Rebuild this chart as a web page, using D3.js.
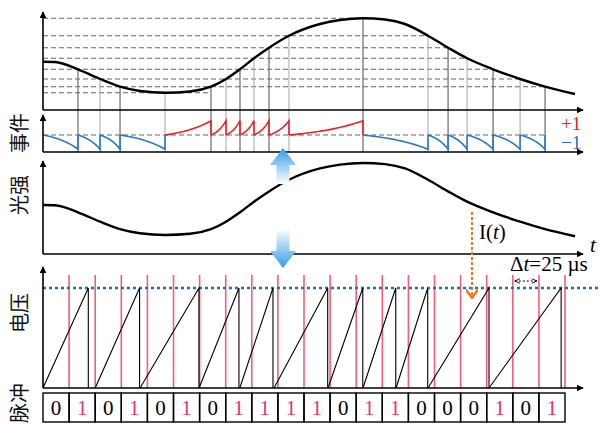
<!DOCTYPE html>
<html><head><meta charset="utf-8">
<script src="https://cdn.jsdelivr.net/npm/d3@7"></script>
<style>body{margin:0;background:#fff}svg{display:block}</style>
</head><body>
<svg id="c" width="601" height="425"></svg>
<script>
// ---------- data ----------
// light intensity I(t) samples (t in µs, I in a.u.)
const curveT = [0, 11.5, 33.5, 54.6, 73.8, 92.9, 116.9, 140.8, 160.9, 175.3, 188.7, 202.1, 216.5, 235.6, 265.3, 284.5, 306.5, 327.6, 346.8, 368.8, 388, 406.2, 431.1, 457, 480.9, 509.6];
const curveI = [48.3, 48, 40.7, 31, 23.3, 19, 17.3, 18.5, 23.3, 31, 40.7, 51.7, 62.3, 74.3, 86, 90, 91.7, 90.5, 86, 74.3, 62.3, 51.7, 40.7, 31, 23.3, 16];
// quantisation levels and the time where each dashed level line stops
const levels = [91.7, 74.3, 62.3, 51.7, 40.7, 31, 23.3, 17.3];
const levelEnds = [306.5, 368.8, 388, 406.2, 431.1, 457, 480.9, 160.9];
// events: time, polarity, intensity at event
const eventT = [33.5, 54.6, 73.8, 116.9, 160.9, 175.3, 188.7, 202.1, 216.5, 235.6, 306.5, 368.8, 388, 406.2, 431.1, 457, 480.9];
const eventSign = [-1, -1, -1, -1, 1, 1, 1, 1, 1, 1, 1, -1, -1, -1, -1, -1, -1];
const eventI = [40.7, 31, 23.3, 17.3, 23.3, 31, 40.7, 51.7, 62.3, 74.3, 91.7, 74.3, 62.3, 51.7, 40.7, 31, 23.3];
// clock edges (Δt = 25 µs)
const clockT = [25, 50, 75, 100, 125, 150, 175, 200, 225, 250, 275, 300, 325, 350, 375, 400, 425, 450, 475, 500];
// integrate-and-fire voltage ramps
const rampStart = [0, 50, 93, 149.5, 188.5, 221.3, 273, 306.5, 338.2, 368.8, 427.2];
const rampEnd = [43.4, 92.5, 149.4, 187.7, 220.3, 272.7, 306.3, 337.9, 368.5, 427.2, 496.3];
// output pulse bits
const pulses = [0, 1, 0, 1, 0, 1, 0, 1, 1, 1, 1, 0, 1, 1, 0, 0, 0, 1, 0, 1];

// ---------- setup ----------
const svg = d3.select("#c");
const RED = "#e8202a", BLUE = "#2a78c6", PINK = "#f0607c";
const x = d3.scaleLinear().domain([0, 500]).range([43, 565]);
const yTop = d3.scaleLinear().domain([0, 100]).range([110, 10]);
const yEvt = d3.scaleLinear().domain([-1, 1]).range([150, 120]);
const yMid = d3.scaleLinear().domain([0, 100]).range([251.7, 154.9]);
const yV = d3.scaleLinear().domain([0, 1]).range([388, 288]);
const xEnd = 583;

const defs = svg.append("defs");
defs.append("marker").attr("id", "ah").attr("viewBox", "0 0 10 10").attr("refX", 9).attr("refY", 5)
  .attr("markerWidth", 7).attr("markerHeight", 7).attr("markerUnits", "userSpaceOnUse").attr("orient", "auto")
  .append("path").attr("d", "M0,0L10,5L0,10Z").attr("fill", "#000");
defs.append("marker").attr("id", "sa").attr("viewBox", "0 0 10 10").attr("refX", 9).attr("refY", 5)
  .attr("markerWidth", 6).attr("markerHeight", 6).attr("markerUnits", "userSpaceOnUse").attr("orient", "auto-start-reverse")
  .append("path").attr("d", "M0,1L9,5L0,9").attr("fill", "none").attr("stroke", "#000").attr("stroke-width", 1.5);
defs.append("marker").attr("id", "oa").attr("viewBox", "0 0 10 10").attr("refX", 5).attr("refY", 9)
  .attr("markerWidth", 12).attr("markerHeight", 12).attr("markerUnits", "userSpaceOnUse").attr("orient", "0")
  .append("path").attr("d", "M0,2L5,9L10,2").attr("fill", "none").attr("stroke", "#e87722").attr("stroke-width", 2);

const gUp = defs.append("linearGradient").attr("id", "gu").attr("x1", 0).attr("y1", 0).attr("x2", 0).attr("y2", 1);
gUp.append("stop").attr("offset", "0%").attr("stop-color", "#2f9be6");
gUp.append("stop").attr("offset", "100%").attr("stop-color", "#ffffff");
const gDn = defs.append("linearGradient").attr("id", "gd").attr("x1", 0).attr("y1", 0).attr("x2", 0).attr("y2", 1);
gDn.append("stop").attr("offset", "0%").attr("stop-color", "#ffffff");
gDn.append("stop").attr("offset", "100%").attr("stop-color", "#2f9be6");

function axisLine(x1, y1, x2, y2) {
  svg.append("line").attr("x1", x1).attr("y1", y1).attr("x2", x2).attr("y2", y2)
    .attr("stroke", "#000").attr("stroke-width", 1.6).attr("marker-end", "url(#ah)");
}
const serif = "'Liberation Serif','Times New Roman',serif";
const cjk = "'Noto Sans CJK SC',sans-serif";

// ---------- top panel: intensity with levels ----------
const curvePts = curveT.map((t, i) => [t, curveI[i]]);
svg.append("g").selectAll("line").data(levels).join("line")
  .attr("x1", x(0)).attr("x2", (d, i) => x(levelEnds[i]))
  .attr("y1", d => yTop(d)).attr("y2", d => yTop(d))
  .attr("stroke", "#666").attr("stroke-width", 1.1).attr("stroke-dasharray", "5,3");

svg.append("g").selectAll("line").data(eventT).join("line")
  .attr("x1", d => x(d)).attr("x2", d => x(d))
  .attr("y1", (d, i) => yTop(eventI[i])).attr("y2", 152)
  .attr("stroke", (d, i) => i % 2 ? "#b5b5b5" : "#6a6a6a").attr("stroke-width", 1.2);

svg.append("path").datum(curvePts)
  .attr("d", d3.line().x(d => x(d[0])).y(d => yTop(d[1])).curve(d3.curveMonotoneX))
  .attr("fill", "none").attr("stroke", "#000").attr("stroke-width", 2.4);
axisLine(43, 110, 43, 12);
axisLine(43, 110, xEnd, 110);

// ---------- event panel ----------
svg.append("line").attr("x1", x(0)).attr("x2", x(eventT[eventT.length - 1]))
  .attr("y1", yEvt(0)).attr("y2", yEvt(0))
  .attr("stroke", "#666").attr("stroke-width", 1).attr("stroke-dasharray", "5,3");
const K = 1.4, A = 0.95;
eventT.forEach((t1, i) => {
  const t0 = i === 0 ? 0 : eventT[i - 1];
  const s = eventSign[i];
  const pts = d3.range(0, 1.0001, 0.05).map(u => [t0 + u * (t1 - t0), s * A * (Math.exp(K * u) - 1) / (Math.exp(K) - 1)]);
  pts.push([t1, 0]);
  svg.append("path").datum(pts)
    .attr("d", d3.line().x(d => x(d[0])).y(d => yEvt(d[1])))
    .attr("fill", "none").attr("stroke", s > 0 ? RED : BLUE).attr("stroke-width", 1.6);
});
axisLine(43, 152, 43, 115);
axisLine(43, 152, xEnd, 152);
svg.append("text").attr("x", 561).attr("y", 130).attr("font-family", serif).attr("font-size", 19)
  .attr("fill", RED).text("+1");
svg.append("text").attr("x", 561).attr("y", 149).attr("font-family", serif).attr("font-size", 19)
  .attr("fill", "#2c6db5").text("\u22121");

// ---------- middle panel ----------
svg.append("path").datum(curvePts)
  .attr("d", d3.line().x(d => x(d[0])).y(d => yMid(d[1])).curve(d3.curveMonotoneX))
  .attr("fill", "none").attr("stroke", "#000").attr("stroke-width", 2.4);
axisLine(43, 254, 43, 161);
axisLine(43, 254, xEnd, 254);
svg.append("text").attr("x", 590).attr("y", 252).attr("font-family", serif).attr("font-style", "italic")
  .attr("font-size", 21).text("t");
const it = svg.append("text").attr("x", 479).attr("y", 239).attr("font-family", serif).attr("font-size", 21);
it.append("tspan").text("I(");
it.append("tspan").attr("font-style", "italic").text("t");
it.append("tspan").text(")");

// ---------- bottom panel ----------
svg.append("g").selectAll("line").data(clockT).join("line")
  .attr("x1", d => x(d)).attr("x2", d => x(d)).attr("y1", 275).attr("y2", yV(0))
  .attr("stroke", PINK).attr("stroke-width", 1.6);
svg.append("line").attr("x1", 43).attr("x2", 601).attr("y1", yV(1)).attr("y2", yV(1))
  .attr("stroke", "#1f6fc0").attr("stroke-width", 2.6).attr("stroke-dasharray", "3,3");
rampStart.forEach((t0, i) => {
  const t1 = rampEnd[i];
  svg.append("path").datum([[t0, 0], [t1, 1], [t1, 0]])
    .attr("d", d3.line().x(d => x(d[0])).y(d => yV(d[1])))
    .attr("fill", "none").attr("stroke", "#000").attr("stroke-width", 1.1);
});
axisLine(43, 388, 43, 267);
axisLine(43, 388, xEnd, 388);

// orange dashed arrow I(t) -> threshold
svg.append("line").attr("x1", 472).attr("x2", 472).attr("y1", 212).attr("y2", 298)
  .attr("stroke", "#e87722").attr("stroke-width", 2).attr("stroke-dasharray", "3,2")
  .attr("marker-end", "url(#oa)");

// Δt annotation
svg.append("line").attr("x1", x(450) + 2).attr("x2", x(475) - 2).attr("y1", 281).attr("y2", 281)
  .attr("stroke", "#000").attr("stroke-width", 1.2).attr("stroke-dasharray", "2,2")
  .attr("marker-start", "url(#sa)").attr("marker-end", "url(#sa)");
const dt = svg.append("text").attr("x", 510).attr("y", 271).attr("font-family", serif).attr("font-size", 21);
dt.append("tspan").text("\u0394");
dt.append("tspan").attr("font-style", "italic").text("t");
dt.append("tspan").text("=25 \u00b5s");

// pulse boxes
const cells = svg.append("g").selectAll("g").data(pulses).join("g");
cells.append("rect").attr("x", (d, i) => x(25 * i)).attr("width", x(25) - x(0))
  .attr("y", 393).attr("height", 29).attr("fill", "none").attr("stroke", "#000").attr("stroke-width", 1.4);
cells.append("text").attr("x", (d, i) => x(25 * i + 12.5)).attr("y", 415).attr("text-anchor", "middle")
  .attr("font-family", serif).attr("font-size", 21).attr("fill", d => d ? "#e5336f" : "#000").text(d => d);

// ---------- blue gradient arrows ----------
svg.append("path").attr("d", "M283,148 L296,165 L289.5,165 L289.5,184 L276.5,184 L276.5,165 L270,165 Z")
  .attr("fill", "url(#gu)");
svg.append("path").attr("d", "M276.5,229 L289.5,229 L289.5,251 L296,251 L283,268 L270,251 L276.5,251 Z")
  .attr("fill", "url(#gd)");

// ---------- vertical Chinese labels ----------
[["事件", 133], ["光强", 195], ["电压", 313], ["脉冲", 403]].forEach(([s, cy]) => {
  svg.append("text").attr("transform", `translate(18,${cy}) rotate(-90)`)
    .attr("text-anchor", "middle").attr("dominant-baseline", "central")
    .attr("font-family", cjk).attr("font-size", 20).attr("fill", "#111").text(s);
});
</script>
</body></html>
